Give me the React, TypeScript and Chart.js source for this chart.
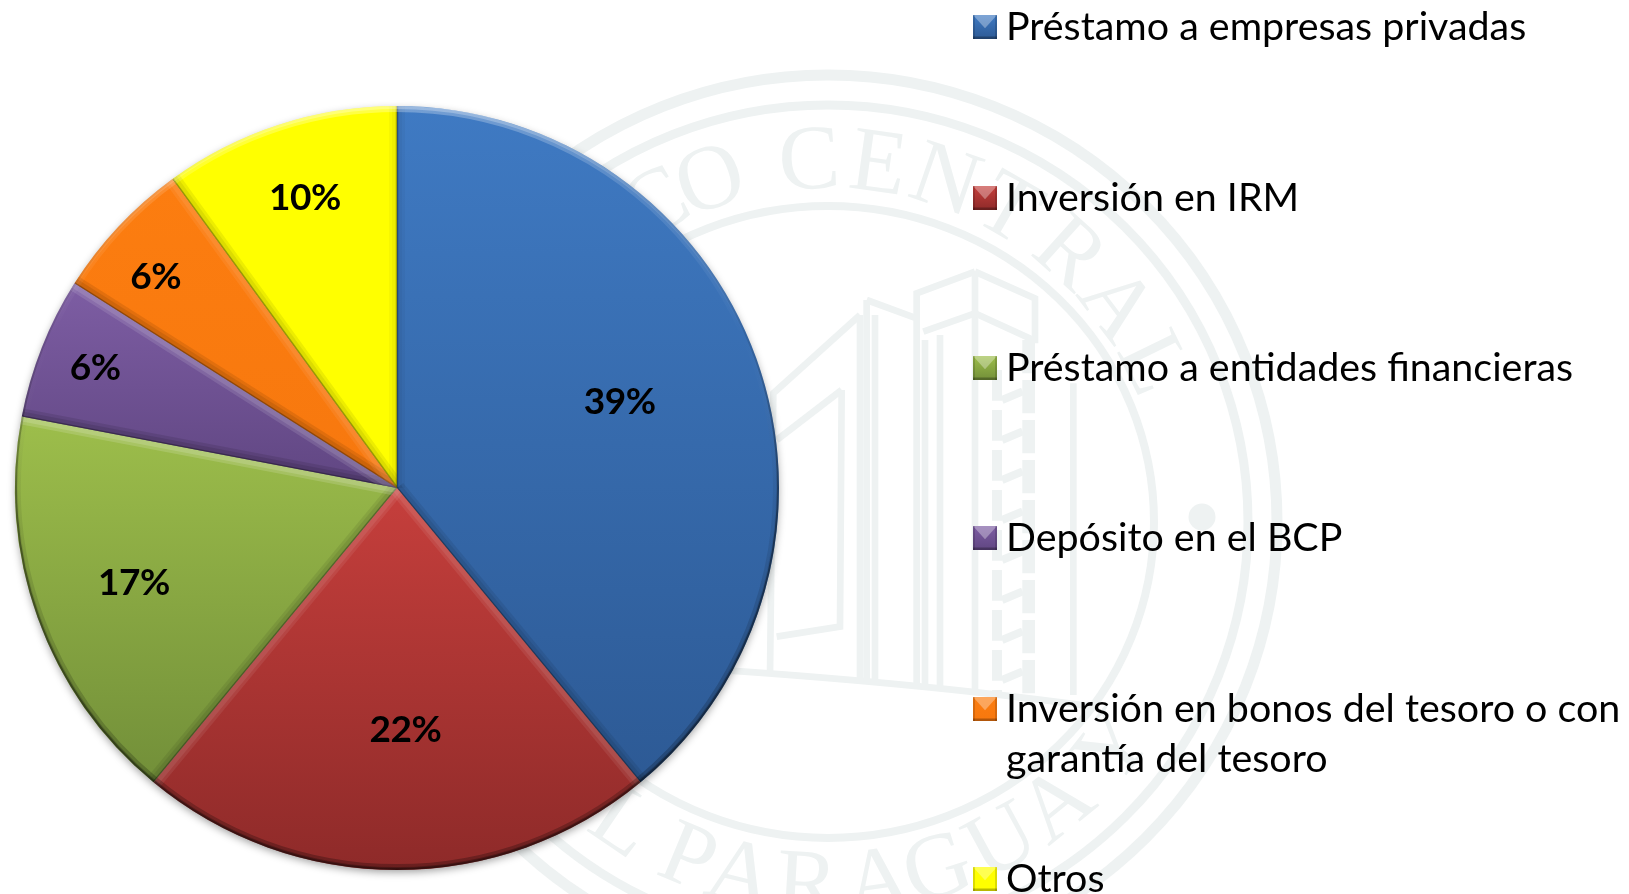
import React, { useEffect, useRef } from "react";
import { Chart, registerables } from "chart.js";

Chart.register(...registerables);

// ---------- data ----------
const categories = [
  "Préstamo a empresas privadas",
  "Inversión en IRM",
  "Préstamo a entidades financieras",
  "Depósito en el BCP",
  "Inversión en bonos del tesoro o con garantía del tesoro",
  "Otros",
];
const shares = [39, 22, 17, 6, 6, 10];
const legendLines = [
  ["Préstamo a empresas privadas"],
  ["Inversión en IRM"],
  ["Préstamo a entidades financieras"],
  ["Depósito en el BCP"],
  ["Inversión en bonos del tesoro o con", "garantía del tesoro"],
  ["Otros"],
];

// ---------- styles ----------
const gradTop = ["#3F7AC3", "#C63F3C", "#9DBE4B", "#7D5DA3", "#FC7D10", "#FFFF00"];
const gradBottom = ["#2D5A95", "#8E2A29", "#728F39", "#604682", "#F7780E", "#FFFF00"];
const labelDepth = [0.625, 0.635, 0.732, 0.85, 0.84, 0.797];
const labelShift = [-1.3, -2, 0, 0, -2, 0.4];
const SEAL = "#eef2f2";
const LEGEND_FONT = "39.4px Lato";
const LABEL_FONT = "bold 37px Lato";

// Seal watermark: letters placed around the ring, angle in degrees from top / bottom
const sealTopLetters = "BANCO".split("").concat("CENTRAL".split(""));
const sealTopAngles = [-60, -50, -39, -28.5, -19, -3, 8, 19, 30, 42, 53, 64];
const sealBottomLetters = "DELPARAGUAY".split("");
const sealBottomAngles = [-55, -44, -34.3, -22.6, -13.9, -3.3, 7.9, 17.5, 28.5, 39, 51.7];

// Building outline, in local drawing units
const buildingPaths: number[][][] = [
  [[705, 35], [530, 100], [530, 1270]],
  [[705, 35], [885, 115], [885, 250]],
  [[705, 35], [705, 1295]],
  [[550, 215], [705, 160], [880, 240]],
  [[600, 225], [600, 1280]],
  [[555, 240], [555, 1272]],
  [[380, 120], [530, 175]],
  [[380, 120], [380, 1258]],
  [[405, 165], [405, 1260]],
  [[360, 165], [100, 400], [90, 1248]],
  [[360, 165], [360, 1258]],
  [[305, 390], [110, 540]],
  [[305, 390], [300, 1100], [110, 1130]],
  [[1000, 370], [1000, 1305]],
];

function drawSeal(ctx: CanvasRenderingContext2D) {
  const cx = 828;
  const cy = 522;
  ctx.save();
  ctx.strokeStyle = SEAL;
  ctx.fillStyle = SEAL;
  const rings = [
    [449, 447, 11],
    [420, 417, 9],
    [326, 316, 8],
  ];
  for (const [rx, ry, w] of rings) {
    ctx.lineWidth = w;
    ctx.beginPath();
    ctx.ellipse(cx, cy, rx, ry, 0, 0, Math.PI * 2);
    ctx.stroke();
  }
  ctx.font = "92px 'Liberation Serif'";
  ctx.textAlign = "center";
  ctx.textBaseline = "alphabetic";
  sealTopLetters.forEach((ch, i) => {
    const a = (sealTopAngles[i] * Math.PI) / 180;
    ctx.save();
    ctx.translate(cx, cy);
    ctx.rotate(a);
    ctx.fillText(ch, 0, -334);
    ctx.restore();
  });
  sealBottomLetters.forEach((ch, i) => {
    const a = (sealBottomAngles[i] * Math.PI) / 180;
    ctx.save();
    ctx.translate(cx, cy);
    ctx.rotate(-a);
    ctx.fillText(ch, 0, 391);
    ctx.restore();
  });
  ctx.beginPath();
  ctx.arc(1202, 517, 13.5, 0, Math.PI * 2);
  ctx.fill();

  // building
  ctx.save();
  ctx.translate(740, 260);
  ctx.scale(1 / 3, 1 / 3);
  ctx.lineWidth = 20;
  ctx.lineJoin = "miter";
  for (const path of buildingPaths) {
    ctx.beginPath();
    path.forEach(([x, y], i) => (i ? ctx.lineTo(x, y) : ctx.moveTo(x, y)));
    ctx.stroke();
  }
  // fire-escape ladder
  ctx.lineWidth = 30;
  ctx.setLineDash([92, 28]);
  ctx.beginPath();
  ctx.moveTo(771, 330);
  ctx.lineTo(771, 1300);
  ctx.stroke();
  ctx.setLineDash([100, 20]);
  ctx.lineWidth = 38;
  ctx.beginPath();
  ctx.moveTo(866, 240);
  ctx.lineTo(866, 1300);
  ctx.stroke();
  ctx.setLineDash([]);
  ctx.lineWidth = 24;
  for (let y = 420; y < 1300; y += 120) {
    ctx.beginPath();
    ctx.moveTo(786, y);
    ctx.lineTo(848, y - 26);
    ctx.stroke();
  }
  // base curve
  ctx.lineWidth = 20;
  ctx.beginPath();
  ctx.moveTo(-480, 1205);
  ctx.quadraticCurveTo(400, 1250, 1060, 1340);
  ctx.stroke();
  ctx.restore();
  ctx.restore();
}

function drawLegend(ctx: CanvasRenderingContext2D) {
  const x = 973;
  const size = 24;
  const centers = [27, 198, 368, 538, 709, 879];
  ctx.save();
  legendLines.forEach((lines, i) => {
    const cy = centers[i];
    const y = cy - size / 2;
    const g = ctx.createLinearGradient(0, y, 0, y + size);
    g.addColorStop(0, gradTop[i]);
    g.addColorStop(1, gradBottom[i]);
    ctx.fillStyle = g;
    ctx.fillRect(x, y, size, size);
    ctx.fillStyle = "rgba(255,255,255,0.32)";
    ctx.beginPath();
    ctx.moveTo(x, y);
    ctx.lineTo(x + size, y);
    ctx.lineTo(x + size / 2, y + size * 0.55);
    ctx.closePath();
    ctx.fill();
    ctx.fillStyle = "rgba(0,0,0,0.14)";
    ctx.fillRect(x, y, 2, size);
    ctx.fillRect(x + size - 2, y, 2, size);
    ctx.fillStyle = "rgba(0,0,0,0.28)";
    ctx.fillRect(x, y + size - 2.5, size, 2.5);

    ctx.fillStyle = "#000";
    ctx.font = LEGEND_FONT;
    ctx.textAlign = "left";
    ctx.textBaseline = "alphabetic";
    lines.forEach((line, k) => {
      ctx.fillText(line, 1006, cy + 12.5 + k * 50);
    });
  });
  ctx.restore();
}

const pieDecor = {
  id: "pieDecor",
  beforeDraw(chart: any) {
    const ctx: CanvasRenderingContext2D = chart.ctx;
    ctx.save();
    ctx.fillStyle = "#fff";
    ctx.fillRect(0, 0, chart.width, chart.height);
    ctx.restore();
    drawSeal(ctx);
    drawLegend(ctx);
  },
  beforeDatasetsDraw(chart: any) {
    const ctx: CanvasRenderingContext2D = chart.ctx;
    const arc = chart.getDatasetMeta(0).data[0];
    if (!arc) return;
    ctx.save();
    ctx.shadowColor = "rgba(0,0,0,0.4)";
    ctx.shadowBlur = 9;
    ctx.shadowOffsetY = 3;
    ctx.fillStyle = "#555";
    ctx.beginPath();
    ctx.arc(arc.x, arc.y, arc.outerRadius - 1, 0, Math.PI * 2);
    ctx.fill();
    ctx.restore();
  },
  afterDatasetsDraw(chart: any) {
    const ctx: CanvasRenderingContext2D = chart.ctx;
    const arcs = chart.getDatasetMeta(0).data;
    arcs.forEach((el: any) => {
      const { x, y, startAngle: s, endAngle: e, outerRadius: R } = el;
      ctx.save();
      ctx.beginPath();
      ctx.moveTo(x, y);
      ctx.arc(x, y, R, s, e);
      ctx.closePath();
      ctx.clip();
      const edges: [number, number][] = [
        [s, Math.cos(s)],
        [e, -Math.cos(e)],
      ];
      for (const [a, lit] of edges) {
        const col =
          lit > 0.02
            ? `rgba(255,255,255,${0.02 + 0.13 * lit * lit})`
            : `rgba(0,0,0,${0.03 + 0.07 * -lit})`;
        ctx.strokeStyle = col;
        for (const w of [16, 10]) {
          ctx.lineWidth = w;
          ctx.beginPath();
          ctx.moveTo(x, y);
          ctx.lineTo(x + R * Math.cos(a), y + R * Math.sin(a));
          ctx.stroke();
        }
        if (lit <= 0.02) {
          ctx.strokeStyle = "rgba(0,0,0,0.3)";
          ctx.lineWidth = 2.5;
          ctx.beginPath();
          ctx.moveTo(x, y);
          ctx.lineTo(x + R * Math.cos(a), y + R * Math.sin(a));
          ctx.stroke();
        }
      }
      // rim
      const rim = ctx.createLinearGradient(0, y - R, 0, y + R);
      rim.addColorStop(0, "rgba(255,255,255,0.28)");
      rim.addColorStop(0.12, "rgba(255,255,255,0.12)");
      rim.addColorStop(0.3, "rgba(255,255,255,0)");
      rim.addColorStop(0.5, "rgba(0,0,0,0.06)");
      rim.addColorStop(1, "rgba(0,0,0,0.26)");
      ctx.strokeStyle = rim;
      for (const w of [12, 6]) {
        ctx.lineWidth = w;
        ctx.beginPath();
        ctx.arc(x, y, R, s, e);
        ctx.stroke();
      }
      const edge = ctx.createLinearGradient(0, y - R, 0, y + R);
      edge.addColorStop(0, "rgba(0,0,0,0)");
      edge.addColorStop(0.3, "rgba(0,0,0,0.1)");
      edge.addColorStop(0.55, "rgba(0,0,0,0.4)");
      edge.addColorStop(1, "rgba(0,0,0,0.3)");
      ctx.strokeStyle = edge;
      ctx.lineWidth = 4;
      ctx.beginPath();
      ctx.arc(x, y, R, s, e);
      ctx.stroke();
      ctx.restore();
    });
    // value labels
    ctx.save();
    ctx.fillStyle = "#000";
    ctx.font = LABEL_FONT;
    (ctx as any).letterSpacing = "-0.5px";
    ctx.textAlign = "center";
    ctx.textBaseline = "middle";
    arcs.forEach((el: any, i: number) => {
      const mid = (el.startAngle + el.endAngle) / 2 + (labelShift[i] * Math.PI) / 180;
      const d = el.outerRadius * labelDepth[i];
      ctx.fillText(`${shares[i]}%`, el.x + d * Math.cos(mid), el.y + d * Math.sin(mid));
    });
    ctx.restore();
  },
};

function sliceFill(c: any) {
  const i = c.dataIndex;
  const chart = c.chart;
  const area = chart.chartArea;
  if (!area) return gradTop[i];
  const cx = (area.left + area.right) / 2;
  const cy = (area.top + area.bottom) / 2;
  const R = Math.min(area.width, area.height) / 2;
  const total = shares.reduce((a, b) => a + b, 0);
  const before = shares.slice(0, i).reduce((a, b) => a + b, 0);
  const a0 = (before / total) * 360 - 90;
  const a1 = ((before + shares[i]) / total) * 360 - 90;
  let top = cy;
  let bottom = cy;
  for (let a = a0; a <= a1; a += 1) {
    const yy = cy + R * Math.sin((a * Math.PI) / 180);
    top = Math.min(top, yy);
    bottom = Math.max(bottom, yy);
  }
  const g = chart.ctx.createLinearGradient(0, top, 0, bottom);
  g.addColorStop(0, gradTop[i]);
  g.addColorStop(1, gradBottom[i]);
  return g;
}

export default function App() {
  const ref = useRef<HTMLCanvasElement>(null);
  useEffect(() => {
    const chart = new Chart(ref.current as HTMLCanvasElement, {
      type: "pie",
      data: {
        labels: categories,
        datasets: [{ data: shares, backgroundColor: sliceFill, borderWidth: 0, hoverOffset: 0 }],
      },
      options: {
        animation: false,
        responsive: false,
        devicePixelRatio: 1,
        layout: { padding: { left: 15, right: 850, top: 106, bottom: 24 } },
        plugins: { legend: { display: false }, tooltip: { enabled: false } },
      },
      plugins: [pieDecor],
    } as any);
    return () => chart.destroy();
  }, []);
  return (
    <div style={{ position: "absolute", left: 0, top: 0, width: 1629, height: 894, overflow: "hidden" }}>
      <canvas ref={ref} width={1629} height={894} style={{ display: "block" }} />
    </div>
  );
}
